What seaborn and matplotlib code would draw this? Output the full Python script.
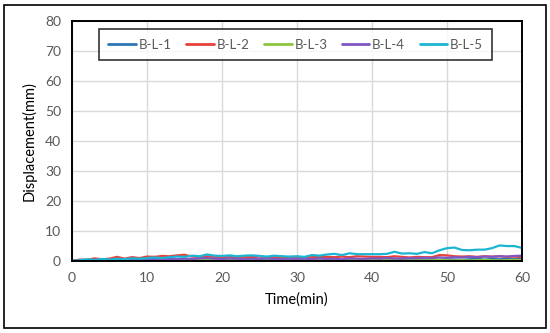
import matplotlib
matplotlib.use("Agg")
import matplotlib.pyplot as plt
import numpy as np
import pandas as pd
import seaborn as sns
from matplotlib.patches import Rectangle

time_min = list(range(0, 61))

bl1 = [0, 0.3, 0.4, 0.2, 0.6, 0.4, 0.5, 0.3, 0.6, 0.5, 0.6,
       0.7, 0.6, 0.8, 0.5, 0.7, 0.6, 0.9, 0.8, 0.6, 0.5,
       0.7, 0.6, 0.4, 0.6, 0.5, 0.7, 0.6, 0.5, 0.4, 0.6,
       0.5, 0.4, 0.6, 0.5, 0.7, 0.4, 0.6, 0.5, 0.3, 0.5,
       0.4, 0.6, 0.5, 0.4, 0.6, 0.5, 0.3, 0.5, 0.4, 0.6,
       0.5, 0.4, 0.6, 0.8, 0.5, 0.7, 0.6, 0.8, 0.7, 0.9]
bl2 = [0, 0.5, 0.4, 0.9, 0.6, 0.8, 1.4, 0.8, 1.3, 1.0, 1.5,
       1.4, 1.7, 1.6, 1.9, 2.1, 1.5, 1.4, 1.6, 1.4, 1.3,
       1.5, 1.2, 1.4, 1.3, 1.5, 1.2, 1.3, 1.4, 1.2, 1.3,
       1.1, 1.3, 1.4, 1.4, 1.3, 1.5, 1.3, 1.6, 1.5, 1.4,
       1.4, 1.3, 1.6, 1.4, 1.2, 1.4, 1.3, 1.3, 2.0, 1.9,
       1.6, 1.5, 1.6, 1.4, 1.6, 1.5, 1.6, 1.4, 1.5, 1.3]
bl3 = [0, 0.1, 0.2, 0.1, 0.2, 0.1, 0.3, 0.2, 0.1, 0.2, 0.3,
       0.2, 0.3, 0.2, 0.4, 0.3, 0.2, 0.3, 0.4, 0.3, 0.2,
       0.3, 0.2, 0.3, 0.4, 0.3, 0.2, 0.3, 0.2, 0.3, 0.4,
       0.3, 0.2, 0.3, 0.2, 0.4, 0.3, 0.2, 0.3, 0.2, 0.3,
       0.4, 0.3, 0.2, 0.3, 0.2, 0.3, 0.2, 0.3, 0.4, 0.3,
       0.2, 0.3, 0.2, 0.3, 0.4, 0.3, 0.2, 0.3, 0.4, 0.3]
bl4 = [0, 0.2, 0.3, 0.2, 0.4, 0.3, 0.2, 0.4, 0.3, 0.5, 0.4,
       0.6, 0.5, 0.7, 0.6, 0.8, 0.7, 0.9, 1.0, 0.8, 0.7,
       0.9, 0.8, 0.6, 0.8, 0.7, 0.9, 0.7, 0.6, 0.8, 0.7,
       0.8, 0.6, 0.9, 0.7, 0.8, 0.6, 0.9, 0.8, 0.7, 0.9,
       0.8, 1.0, 0.9, 0.8, 1.0, 0.9, 1.1, 1.0, 1.2, 1.1,
       1.3, 1.2, 1.4, 1.3, 1.5, 1.4, 1.6, 1.5, 1.7, 1.8]
bl5 = [0, 0.3, 0.6, 0.4, 0.7, 0.5, 0.8, 0.6, 0.9, 0.8, 1.0,
       1.2, 1.0, 1.3, 1.5, 1.4, 1.8, 1.6, 2.2, 1.8, 1.7,
       1.9, 1.6, 1.8, 1.9, 1.7, 1.5, 1.8, 1.6, 1.5, 1.6,
       1.4, 2.0, 1.8, 2.2, 2.4, 2.0, 2.6, 2.3, 2.3, 2.3,
       2.3, 2.4, 3.1, 2.5, 2.6, 2.4, 3.0, 2.6, 3.6, 4.3,
       4.5, 3.7, 3.6, 3.8, 3.8, 4.3, 5.2, 5.0, 5.0, 4.4]

series_names = ["B-L-1", "B-L-2", "B-L-3", "B-L-4", "B-L-5"]
series_values = [bl1, bl2, bl3, bl4, bl5]
colors = ["#2E75B6", "#E8413C", "#8CC63F", "#7E57C2", "#1BB5D4"]

rows = []
for name, vals in zip(series_names, series_values):
    for t, v in zip(time_min, vals):
        rows.append({"Time": t, "Displacement": v, "Series": name})
df = pd.DataFrame(rows)

sns.set_theme(style="whitegrid")
plt.rcParams["font.family"] = ["Lato", "DejaVu Sans"]

fig = plt.figure(figsize=(5.5, 3.33), dpi=100)
ax = fig.add_axes([0.131, 0.216, 0.818, 0.721])

sns.lineplot(data=df, x="Time", y="Displacement", hue="Series",
             palette=dict(zip(series_names, colors)), linewidth=1.6, ax=ax)

ax.set_xlim(0, 60)
ax.set_ylim(0, 80)
ax.set_xticks(np.arange(0, 61, 10))
ax.set_yticks(np.arange(0, 81, 10))
ax.grid(True, color="#D9D9D9", linewidth=1.0)
ax.tick_params(axis="both", length=0, labelsize=10, labelcolor="#595959", pad=8)
for s in ax.spines.values():
    s.set_color("black")
    s.set_linewidth(1.4)
ax.set_xlabel("Time(min)", fontsize=10.5, color="black", labelpad=6)
ax.set_ylabel("Displacement(mm)", fontsize=10.5, color="black", labelpad=6)

leg = ax.legend(loc="upper center", bbox_to_anchor=(0.497, 0.965), ncol=5,
                frameon=True, fancybox=False, fontsize=9.5, handlelength=2.1,
                columnspacing=1.1, handletextpad=0.2, borderpad=0.7,
                borderaxespad=0)
leg.get_frame().set_edgecolor("black")
leg.get_frame().set_linewidth(1.2)
for txt in leg.get_texts():
    txt.set_color("#595959")
for line in leg.get_lines():
    line.set_linewidth(2.0)

fig.patches.append(Rectangle((0.007, 0.015), 0.986, 0.97, transform=fig.transFigure,
                             fill=False, edgecolor="black", linewidth=1.2))

fig.savefig("out.png", dpi=100)
